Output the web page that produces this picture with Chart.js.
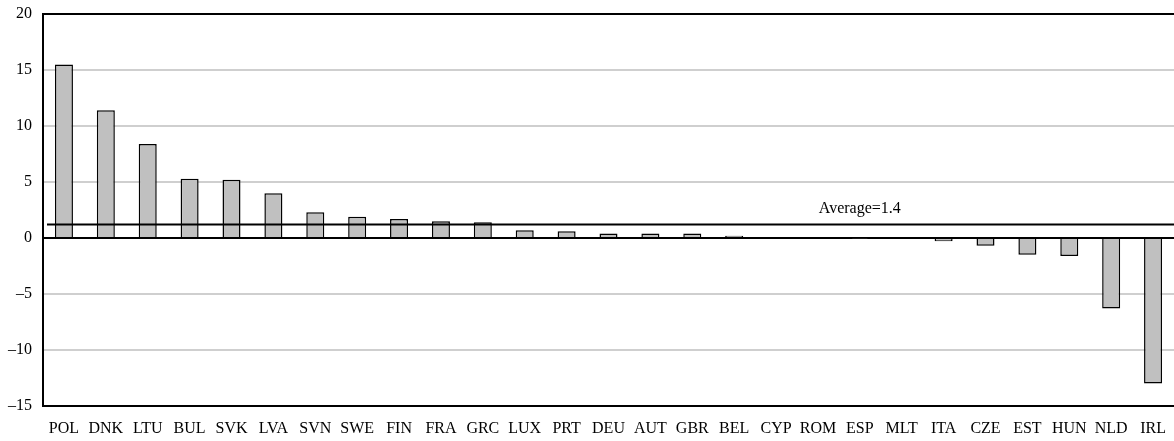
<!DOCTYPE html>
<html>
<head>
<meta charset="utf-8">
<script src="https://cdn.jsdelivr.net/npm/chart.js@4"></script>
<style>
  html, body { margin: 0; padding: 0; background: #fff; }
  #wrap { width: 1174px; height: 441px; }
</style>
</head>
<body>
<div id="wrap"><canvas id="myChart"></canvas></div>
<script>
// country codes, sorted as in the figure
var countries = ['POL','DNK','LTU','BUL','SVK','LVA','SVN','SWE','FIN','FRA','GRC','LUX','PRT','DEU',
                 'AUT','GBR','BEL','CYP','ROM','ESP','MLT','ITA','CZE','EST','HUN','NLD','IRL'];
var values = [15.5, 11.4, 8.4, 5.3, 5.2, 4.0, 2.3, 1.9, 1.7, 1.5, 1.4, 0.7, 0.6, 0.4,
              0.4, 0.4, 0.2, 0, 0, -0.05, -0.1, -0.3, -0.7, -1.5, -1.6, -6.3, -13.0];
var avgLine = 1.2;          // where the line sits in the picture
var avgText = 'Average=1.4';
var avgLabelAt = 'ESP';     // label is centred over this category
var yMin = -15, yMax = 20, yStep = 5;

Chart.defaults.font.family = '"Liberation Serif", "Times New Roman", serif';
Chart.defaults.color = '#000';

var averagePlugin = {
  id: 'averageLine',
  afterDatasetsDraw: function(chart) {
    var ctx = chart.ctx, area = chart.chartArea;
    var y = chart.scales.y.getPixelForValue(avgLine);
    var x = chart.scales.x.getPixelForValue(countries.indexOf(avgLabelAt));
    ctx.save();
    ctx.strokeStyle = '#000';
    ctx.lineWidth = 2;
    ctx.beginPath();
    ctx.moveTo(area.left + 4, y);
    ctx.lineTo(area.right, y);
    ctx.stroke();
    ctx.fillStyle = '#000';
    ctx.font = '16px "Liberation Serif", serif';
    ctx.textAlign = 'center';
    ctx.textBaseline = 'middle';
    ctx.fillText(avgText, x, y - 16);
    ctx.restore();
  }
};

new Chart(document.getElementById('myChart'), {
  type: 'bar',
  data: {
    labels: countries,
    datasets: [{
      data: values,
      backgroundColor: '#c0c0c0',
      borderColor: '#000',
      borderWidth: 1.5,
      barPercentage: 0.43,
      categoryPercentage: 1.0
    }]
  },
  options: {
    responsive: true,
    maintainAspectRatio: false,
    animation: false,
    layout: { padding: { top: 14, right: 0, left: 0, bottom: 0 } },
    plugins: {
      legend: { display: false },
      tooltip: { enabled: false }
    },
    scales: {
      x: {
        grid: { display: false },
        border: { display: true, color: '#000', width: 2 },
        ticks: { font: { size: 16 }, padding: 5, maxRotation: 0, autoSkip: false },
        afterFit: function(scale) {
          scale.height = 35;
          scale.paddingLeft = 0;
          scale.paddingRight = 0;
        }
      },
      y: {
        min: yMin,
        max: yMax,
        ticks: {
          stepSize: yStep,
          font: { size: 16 },
          padding: 11,
          callback: function(v) { return String(v).replace('-', '\u2013'); }
        },
        grid: {
          drawTicks: false,
          lineWidth: 2,
          color: function(c) {
            var v = c.tick && c.tick.value;
            if (v === 0 || v === yMax || v === yMin) return '#000';
            return '#cfcfcf';
          }
        },
        border: { display: true, color: '#000', width: 2 },
        afterFit: function(scale) {
          scale.width = 43;
          scale.paddingTop = 0;
          scale.paddingBottom = 0;
        }
      }
    }
  },
  plugins: [averagePlugin]
});
</script>
</body>
</html>
